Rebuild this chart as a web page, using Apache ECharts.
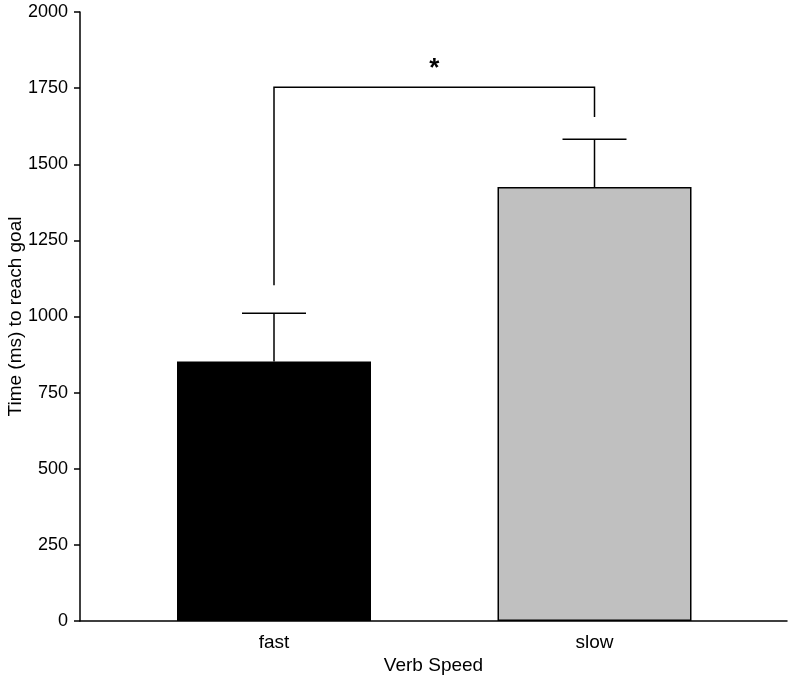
<!DOCTYPE html>
<html><head><meta charset="utf-8">
<script src="https://cdn.jsdelivr.net/npm/echarts@6/dist/echarts.min.js"></script>
<style>html,body{margin:0;padding:0;background:#fff}#c{width:792px;height:678px}</style>
</head><body><div id="c"></div>
<script>
const categories = ['fast', 'slow'];
const positions = [1, 2];
const means = [852, 1425];
const errorTops = [1011, 1582];
const barColors = ['#000000', '#c0c0c0'];
const yTicks = [0, 250, 500, 750, 1000, 1250, 1500, 1750, 2000];
// significance bracket: [leftX, leftBottom, top, rightX, rightBottom]
const bracket = [1, 1103, 1753, 2, 1655];
const starLabel = '*';
const starY = 1812;

const chart = echarts.init(document.getElementById('c'), null, {renderer: 'canvas'});
const font = 'Liberation Sans, Arial, sans-serif';
chart.setOption({
  animation: false,
  grid: {left: 80, right: 5, top: 12, bottom: 57, containLabel: false, outerBoundsMode: 'none'},
  xAxis: {
    type: 'value', min: 0.3947, max: 2.6006,
    splitLine: {show: false},
    axisLine: {lineStyle: {color: '#000', width: 1.5}},
    axisTick: {show: false},
    axisLabel: {customValues: positions, formatter: v => categories[positions.indexOf(Math.round(v))] || '',
      color: '#000', fontSize: 19, fontFamily: font, margin: 12},
    name: 'Verb Speed', nameLocation: 'middle', nameGap: 35, nameMoveOverlap: false,
    nameTextStyle: {color: '#000', fontSize: 19, fontFamily: font}
  },
  yAxis: {
    type: 'value', min: 0, max: 2000, interval: 250,
    splitLine: {show: false},
    axisLine: {show: true, lineStyle: {color: '#000', width: 1.5}},
    axisTick: {show: true, length: 6, lineStyle: {color: '#000', width: 1.5}},
    axisLabel: {customValues: yTicks, formatter: v => String(v), color: '#000', fontSize: 18, fontFamily: font, margin: 12},
    name: 'Time (ms) to reach goal', nameLocation: 'middle', nameGap: 55, nameMoveOverlap: false,
    nameTextStyle: {color: '#000', fontSize: 19, fontFamily: font}
  },
  series: [
    {
      type: 'bar', barWidth: 194,
      data: positions.map((p, i) => ({value: [p, means[i]], itemStyle: {color: barColors[i], borderColor: '#000', borderWidth: 1.5}}))
    },
    {
      type: 'custom',
      data: positions.map((p, i) => [p, means[i], errorTops[i]]),
      renderItem: function (params, api) {
        const b = api.coord([api.value(0), api.value(1)]);
        const t = api.coord([api.value(0), api.value(2)]);
        const s = {stroke: '#000', lineWidth: 1.5};
        return {type: 'group', children: [
          {type: 'line', shape: {x1: b[0], y1: b[1], x2: t[0], y2: t[1]}, style: s},
          {type: 'line', shape: {x1: t[0] - 32, y1: t[1], x2: t[0] + 32, y2: t[1]}, style: s}
        ]};
      },
      z: 3
    },
    {
      type: 'custom',
      data: [bracket],
      renderItem: function (params, api) {
        const p1 = api.coord([api.value(0), api.value(1)]);
        const p2 = api.coord([api.value(0), api.value(2)]);
        const p3 = api.coord([api.value(3), api.value(2)]);
        const p4 = api.coord([api.value(3), api.value(4)]);
        const mid = api.coord([(api.value(0) + api.value(3)) / 2, starY]);
        return {type: 'group', children: [
          {type: 'polyline', shape: {points: [p1, p2, p3, p4]}, style: {stroke: '#000', lineWidth: 1.5, fill: null}},
          {type: 'text', x: mid[0], y: mid[1], style: {text: starLabel, fontSize: 26, fontWeight: 'bold', fontFamily: font, fill: '#000', align: 'center', verticalAlign: 'middle'}}
        ]};
      }
    }
  ]
});
</script></body></html>
